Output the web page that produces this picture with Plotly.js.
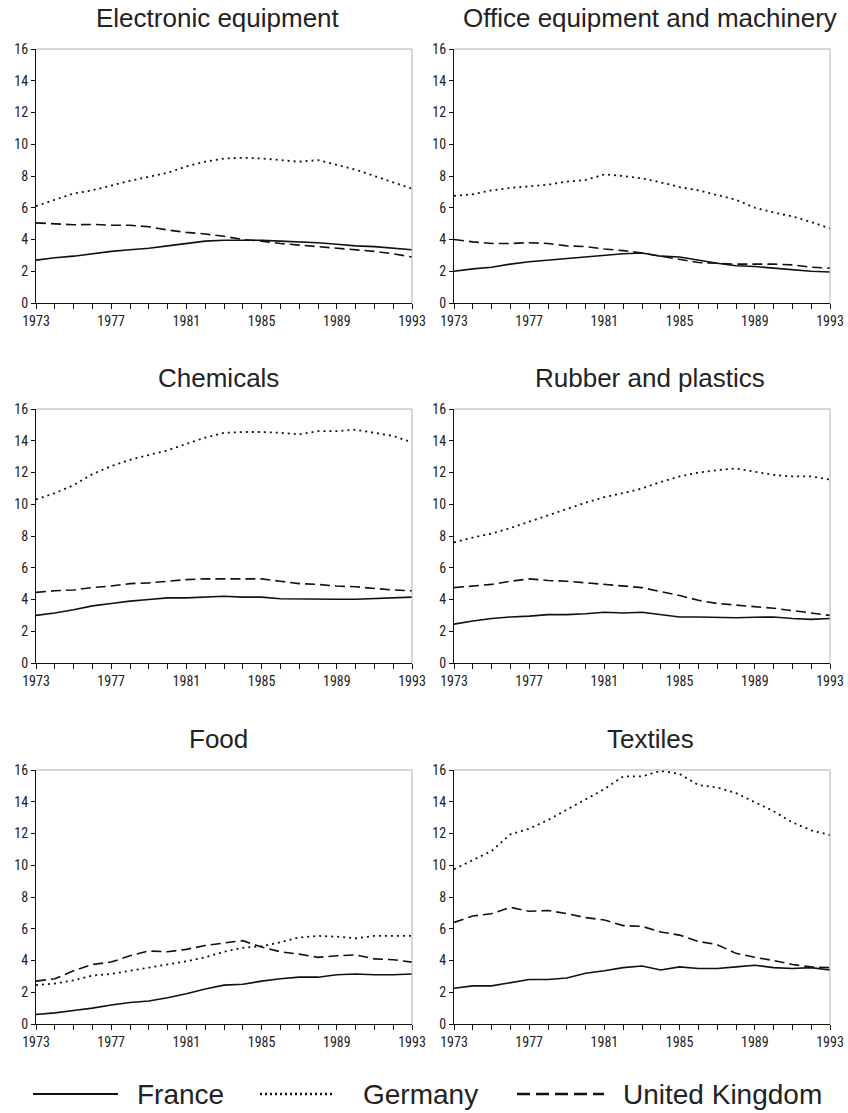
<!DOCTYPE html>
<html>
<head>
<meta charset="utf-8">
<script src="https://cdn.plot.ly/plotly-3.0.1.min.js"></script>
<style>html,body{margin:0;padding:0;background:#fff;}#chart{width:848px;height:1113px;}</style>
</head>
<body>
<div id="chart"></div>
<script>
// ---- data ----
const years = [1973,1974,1975,1976,1977,1978,1979,1980,1981,1982,1983,1984,1985,1986,1987,1988,1989,1990,1991,1992,1993];
const xTickLabels = ['1973','1977','1981','1985','1989','1993'];
const yTickValues = [0,2,4,6,8,10,12,14,16];
const seriesNames = ['France','Germany','United Kingdom'];
const panelTitles = ['Electronic equipment','Office equipment and machinery','Chemicals','Rubber and plastics','Food','Textiles'];

const electronicFrance  = [2.7,2.85,2.95,3.1,3.25,3.35,3.45,3.6,3.75,3.9,3.95,3.95,3.95,3.9,3.85,3.8,3.7,3.6,3.55,3.45,3.35];
const electronicGermany = [6.1,6.5,6.9,7.1,7.4,7.7,7.95,8.2,8.6,8.9,9.1,9.15,9.1,9.0,8.9,9.0,8.7,8.4,8.0,7.6,7.2];
const electronicUK      = [5.05,5.0,4.93,4.95,4.9,4.9,4.8,4.6,4.45,4.35,4.2,4.0,3.9,3.75,3.65,3.55,3.45,3.35,3.25,3.1,2.9];

const officeFrance  = [2.0,2.15,2.25,2.45,2.6,2.7,2.8,2.9,3.0,3.1,3.15,2.95,2.9,2.7,2.5,2.35,2.3,2.2,2.1,2.0,1.95];
const officeGermany = [6.75,6.85,7.1,7.25,7.35,7.45,7.65,7.75,8.1,8.0,7.85,7.6,7.3,7.1,6.8,6.5,6.0,5.7,5.45,5.1,4.7];
const officeUK      = [4.0,3.85,3.75,3.75,3.8,3.75,3.6,3.55,3.4,3.3,3.15,2.95,2.75,2.55,2.5,2.45,2.45,2.45,2.4,2.25,2.2];

const chemicalsFrance  = [3.0,3.15,3.35,3.6,3.75,3.9,4.0,4.1,4.1,4.15,4.2,4.15,4.15,4.05,4.03,4.02,4.02,4.02,4.05,4.1,4.15];
const chemicalsGermany = [10.3,10.7,11.2,11.9,12.4,12.8,13.1,13.4,13.8,14.2,14.5,14.55,14.55,14.5,14.4,14.6,14.6,14.7,14.5,14.3,13.9];
const chemicalsUK      = [4.45,4.55,4.6,4.75,4.85,5.0,5.05,5.15,5.25,5.3,5.3,5.3,5.3,5.15,5.0,4.95,4.85,4.8,4.7,4.6,4.55];

const rubberFrance  = [2.45,2.65,2.8,2.9,2.95,3.05,3.05,3.1,3.2,3.15,3.2,3.05,2.9,2.9,2.88,2.85,2.88,2.9,2.8,2.75,2.8];
const rubberGermany = [7.6,7.9,8.15,8.5,8.9,9.3,9.7,10.1,10.45,10.7,11.0,11.4,11.75,12.0,12.15,12.25,12.05,11.85,11.75,11.75,11.55];
const rubberUK      = [4.75,4.85,4.95,5.15,5.3,5.2,5.15,5.05,4.95,4.85,4.75,4.5,4.25,3.95,3.75,3.65,3.55,3.45,3.3,3.15,3.0];

const foodFrance  = [0.6,0.7,0.85,1.0,1.2,1.35,1.45,1.65,1.9,2.2,2.45,2.5,2.7,2.85,2.95,2.95,3.1,3.15,3.1,3.1,3.15];
const foodGermany = [2.45,2.55,2.75,3.05,3.15,3.35,3.55,3.75,3.95,4.2,4.55,4.8,4.9,5.15,5.45,5.55,5.5,5.4,5.55,5.55,5.55];
const foodUK      = [2.7,2.85,3.35,3.75,3.9,4.3,4.6,4.55,4.7,4.95,5.1,5.25,4.85,4.55,4.4,4.2,4.3,4.35,4.1,4.05,3.9];

const textilesFrance  = [2.25,2.4,2.4,2.6,2.8,2.8,2.9,3.2,3.35,3.55,3.65,3.4,3.6,3.5,3.5,3.6,3.7,3.55,3.5,3.55,3.4];
const textilesGermany = [9.75,10.3,10.9,11.95,12.3,12.85,13.5,14.1,14.8,15.6,15.6,15.95,15.75,15.05,14.9,14.55,13.95,13.4,12.7,12.2,11.9];
const textilesUK      = [6.4,6.8,6.95,7.35,7.1,7.15,6.95,6.7,6.55,6.2,6.15,5.8,5.6,5.2,5.0,4.45,4.2,4.0,3.75,3.6,3.55];

const panelData = [
  [electronicFrance, electronicGermany, electronicUK],
  [officeFrance, officeGermany, officeUK],
  [chemicalsFrance, chemicalsGermany, chemicalsUK],
  [rubberFrance, rubberGermany, rubberUK],
  [foodFrance, foodGermany, foodUK],
  [textilesFrance, textilesGermany, textilesUK]
];

// ---- styling / layout ----
const W = 848, H = 1113;
const tickFont = {family: 'Liberation Sans Narrow, Arial Narrow, Roboto Condensed, Liberation Sans, sans-serif', size: 14, color: '#222'};
const titleFont = {family: 'Liberation Sans, Arial, Helvetica, sans-serif', size: 26, color: '#222'};
const legendFont = {family: 'Liberation Sans, Arial, Helvetica, sans-serif', size: 28, color: '#222'};
const lineStyles = [
  {color: '#111', width: 1.6, dash: 'solid'},
  {color: '#111', width: 1.8, dash: '2px,4px'},
  {color: '#111', width: 1.6, dash: '10px,5px'}
];
const colsPx = [[36, 412], [454, 830]];
const rowsPx = [[49, 303], [409, 663], [770, 1024]];
const titleYPx = [18, 378, 739];
const titleXPx = [218, 650];

const px2x = p => p / W;
const px2y = p => 1 - p / H;

const tickText = years.map(y => xTickLabels.indexOf(String(y)) >= 0 ? String(y) : '');

const traces = [];
const layout = {
  width: W, height: H,
  margin: {l: 0, r: 0, t: 0, b: 0},
  paper_bgcolor: '#fff', plot_bgcolor: '#fff',
  showlegend: false,
  annotations: [], shapes: []
};

for (let i = 0; i < 6; i++) {
  const r = Math.floor(i / 2), c = i % 2;
  const sfx = i === 0 ? '' : String(i + 1);
  const xa = 'x' + sfx, ya = 'y' + sfx;
  panelData[i].forEach((vals, k) => {
    traces.push({
      type: 'scatter', mode: 'lines', x: years, y: vals,
      xaxis: xa, yaxis: ya, name: seriesNames[k],
      line: Object.assign({shape: 'linear'}, lineStyles[k]),
      hoverinfo: 'skip'
    });
  });
  layout['xaxis' + sfx] = {
    domain: [px2x(colsPx[c][0]), px2x(colsPx[c][1])],
    anchor: ya, range: [1973, 1993],
    tickvals: years, ticktext: tickText,
    ticks: 'outside', ticklen: 5, tickcolor: '#111', tickwidth: 1,
    showline: true, linecolor: '#111', linewidth: 1,
    showgrid: false, zeroline: false,
    tickfont: tickFont, fixedrange: true
  };
  layout['yaxis' + sfx] = {
    domain: [px2y(rowsPx[r][1]), px2y(rowsPx[r][0])],
    anchor: xa, range: [0, 16],
    tickvals: yTickValues,
    ticks: 'outside', ticklen: 4, tickcolor: '#111', tickwidth: 1,
    showline: true, linecolor: '#111', linewidth: 1,
    showgrid: false, zeroline: false,
    tickfont: tickFont, fixedrange: true
  };
  // light grey top and right border
  layout.shapes.push({type: 'line', xref: xa + ' domain', yref: ya + ' domain', x0: 0, x1: 1, y0: 1, y1: 1, line: {color: '#b0b0b0', width: 1}});
  layout.shapes.push({type: 'line', xref: xa + ' domain', yref: ya + ' domain', x0: 1, x1: 1, y0: 0, y1: 1, line: {color: '#b0b0b0', width: 1}});
  layout.annotations.push({
    text: panelTitles[i], xref: 'paper', yref: 'paper',
    x: px2x(titleXPx[c]), y: px2y(titleYPx[r]), xanchor: 'center', yanchor: 'middle',
    showarrow: false, font: titleFont
  });
}

// custom legend
const legendY = px2y(1094);
const legendSamples = [[33, 118, 135], [260, 335, 361], [517, 604, 621]];
const legendDash = ['solid', '2px,3px', '13px,6px'];
seriesNames.forEach((name, k) => {
  const s = legendSamples[k];
  layout.shapes.push({type: 'line', xref: 'paper', yref: 'paper', x0: px2x(s[0]), x1: px2x(s[1]), y0: legendY, y1: legendY,
    line: {color: '#111', width: k === 0 ? 2 : 2.5, dash: legendDash[k]}});
  layout.annotations.push({text: name, xref: 'paper', yref: 'paper', x: px2x(s[2]), y: legendY,
    xanchor: 'left', yanchor: 'middle', showarrow: false, font: legendFont});
});

Plotly.newPlot('chart', traces, layout, {staticPlot: true, displayModeBar: false});
</script>
</body>
</html>
